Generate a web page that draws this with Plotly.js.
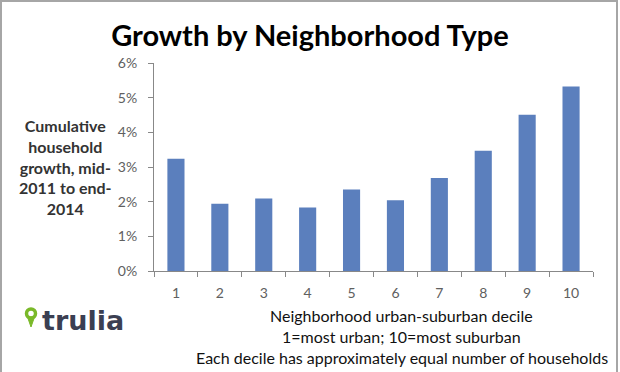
<!DOCTYPE html>
<html>
<head>
<meta charset="utf-8">
<script src="https://cdn.plot.ly/plotly-3.0.1.min.js"></script>
<style>
  html, body { margin: 0; padding: 0; background: #fff; overflow: hidden; }
  #frame { position: absolute; left: 0; top: 0; width: 614px; height: 380px; border: 2px solid #a6a6a6; box-sizing: content-box; }
  #chart { position: absolute; left: 0; top: 0; width: 620px; height: 372px; }
</style>
</head>
<body>
<div id="chart"></div>
<div id="frame" style="pointer-events:none"></div>
<script>
const deciles = ["1", "2", "3", "4", "5", "6", "7", "8", "9", "10"];
const growth = [0.0324, 0.0194, 0.0209, 0.0183, 0.0235, 0.0204, 0.0268, 0.0347, 0.0451, 0.0532];
const yTickVals = [0, 0.01, 0.02, 0.03, 0.04, 0.05, 0.06];
const yTickText = ["0%", "1%", "2%", "3%", "4%", "5%", "6%"];

const W = 620, H = 372;
const M = { l: 154, r: 27, t: 63, b: 101 };
const pw = W - M.l - M.r, ph = H - M.t - M.b;
const px = x => (x - M.l) / pw;
const py = y => (H - M.b - y) / ph;

const font = "Lato, 'Open Sans', sans-serif";

const trace = {
  type: "bar",
  x: deciles,
  y: growth,
  marker: { color: "#5b7fbd", line: { width: 0 } },
  hoverinfo: "skip"
};

const layout = {
  width: W, height: H,
  margin: M,
  paper_bgcolor: "#ffffff",
  plot_bgcolor: "#ffffff",
  showlegend: false,
  bargap: 0.61,
  font: { family: font, color: "#595959", size: 13 },
  title: {
    text: "Growth by Neighborhood Type",
    font: { family: font, size: 29, color: "#000000", weight: "bold" },
    x: 310 / W, xref: "container", xanchor: "center",
    y: 1 - 36 / H, yref: "container", yanchor: "middle"
  },
  xaxis: {
    type: "category",
    showline: true, linecolor: "#888888", linewidth: 1,
    ticks: "outside", tickson: "boundaries", ticklen: 5, tickcolor: "#888888",
    showgrid: false, zeroline: false,
    tickfont: { family: font, size: 14, color: "#606060" },
    ticklabelstandoff: 9,
    fixedrange: true
  },
  yaxis: {
    range: [0, 0.06],
    tickvals: yTickVals, ticktext: yTickText,
    showline: true, linecolor: "#888888", linewidth: 1,
    ticks: "outside", ticklen: 5, tickcolor: "#888888",
    showgrid: false, zeroline: false,
    tickfont: { family: font, size: 14, color: "#606060" },
    ticklabelstandoff: 8,
    fixedrange: true
  },
  annotations: [
    {
      text: "Cumulative<br>household<br>growth, mid-<br>2011 to end-<br>2014",
      xref: "paper", yref: "paper", x: px(65), y: py(167),
      xanchor: "center", yanchor: "middle", showarrow: false, align: "center",
      font: { family: font, size: 16, color: "#333333", weight: "bold" }
    },
    {
      text: "Neighborhood urban-suburban decile",
      xref: "paper", yref: "paper", x: px(401), y: py(315),
      xanchor: "center", yanchor: "middle", showarrow: false,
      font: { family: font, size: 16, color: "#111111" }
    },
    {
      text: "1=most urban; 10=most suburban",
      xref: "paper", yref: "paper", x: px(401), y: py(336),
      xanchor: "center", yanchor: "middle", showarrow: false,
      font: { family: font, size: 16, color: "#111111" }
    },
    {
      text: "Each decile has approximately equal number of households",
      xref: "paper", yref: "paper", x: px(402), y: py(357),
      xanchor: "center", yanchor: "middle", showarrow: false,
      font: { family: font, size: 16, color: "#111111" }
    },
    {
      text: "trulia",
      xref: "paper", yref: "paper", x: px(40), y: py(320),
      xanchor: "left", yanchor: "middle", showarrow: false,
      font: { family: "'DejaVu Sans', sans-serif", size: 27, color: "#3b3f52", weight: "bold" }
    }
  ],
  shapes: [
    {
      type: "circle", xref: "paper", yref: "paper",
      x0: px(26.5), x1: px(35.5), y0: py(318), y1: py(309),
      line: { color: "#7ab929", width: 3.5 }, fillcolor: "rgba(0,0,0,0)"
    },
    {
      type: "path", xref: "paper", yref: "paper",
      path: "M " + px(27.5) + "," + py(317) + " L " + px(31) + "," + py(327) + " L " + px(34.5) + "," + py(317) + " Z",
      line: { color: "#7ab929", width: 1 }, fillcolor: "#7ab929"
    }
  ]
};

Plotly.newPlot("chart", [trace], layout, { displayModeBar: false, staticPlot: true });
</script>
</body>
</html>
